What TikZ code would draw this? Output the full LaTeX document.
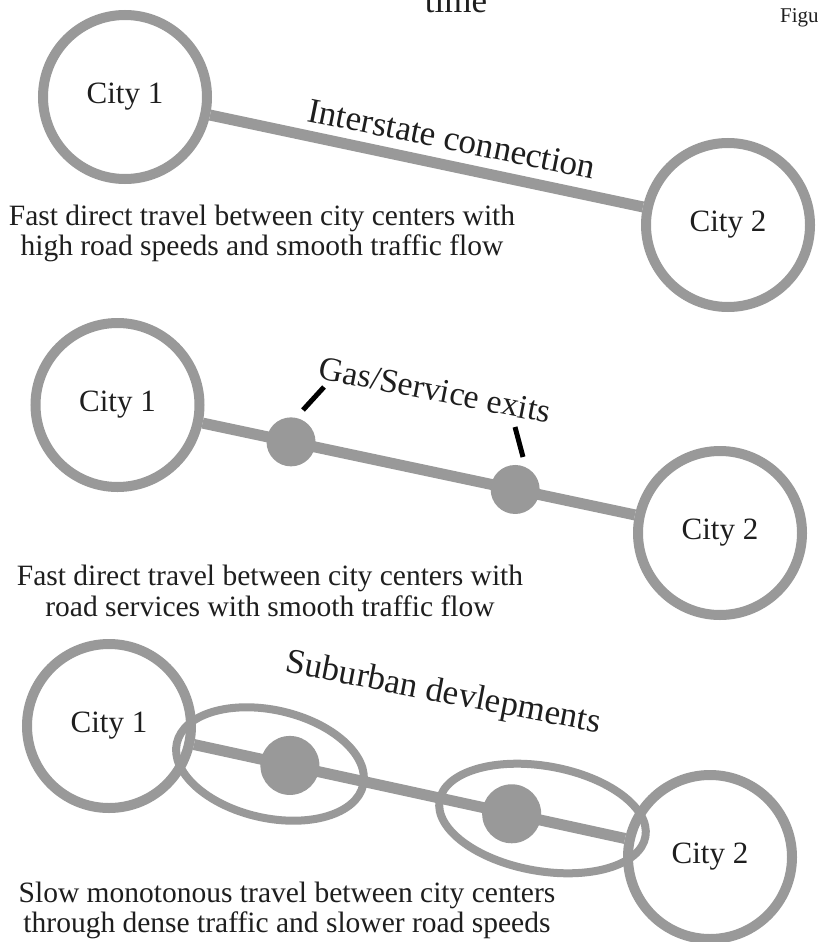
\documentclass[tikz,border=0pt]{standalone}
\usepackage{fontspec}
\setmainfont{Liberation Serif}
\usetikzlibrary{calc,shapes.geometric}
\definecolor{roadgray}{RGB}{153,153,153}
\definecolor{ink}{RGB}{30,30,30}

\begin{document}
\begin{tikzpicture}[x=1pt,y=-1pt,
  city/.style={circle, draw=roadgray, line width=10pt, minimum size=164pt,
    inner sep=0pt, text=ink, font=\fontsize{31}{34}\selectfont},
  roadline/.style={draw=roadgray, line width=11pt},
  exitdot/.style={circle, fill=roadgray, inner sep=0pt},
  suburb/.style={ellipse, draw=roadgray, line width=8pt, inner sep=0pt},
  roadtag/.style={text=ink, font=\fontsize{35}{40}\selectfont, inner sep=0pt},
  note/.style={text=ink, font=\fontsize{29.5}{30.5}\selectfont, align=center, inner sep=0pt},
  pointer/.style={draw=black, line width=5pt}]

\fill[white] (0,0) rectangle (817,942);
\useasboundingbox (0,0) rectangle (817,942);

% heading fragments
\node[roadtag, anchor=base] (head) at (456,13) {time};
\node[anchor=base west, text=ink, inner sep=0pt, font=\fontsize{21}{24}\selectfont] (fig) at (780,23) {Figu};

% --- interstate ---
\node[city] (a1) at (125,97) {City 1};
\node[city] (b1) at (728,225) {City 2};
\draw[roadline] (a1) -- (b1);
\node[roadtag, rotate=-11.5] (t1) at (452,139) {Interstate connection};
\node[note] (n1) at (262,233.5) {Fast direct travel between city centers with\\high road speeds and smooth traffic flow};

% --- interstate with service exits ---
\node[city] (a2) at (117.5,405) {City 1};
\node[city] (b2) at (720,533) {City 2};
\draw[roadline] (a2) -- (b2);
\node[exitdot, minimum size=49pt] (d1) at ($(a2)!0.288!(b2)$) {};
\node[exitdot, minimum size=49pt] (d2) at ($(a2)!0.66!(b2)$) {};
\node[roadtag, rotate=-11, font=\fontsize{33.7}{38}\selectfont] (t2) at (435,390) {Gas/Service exits};
\coordinate (p1a) at (303,410);
\coordinate (p1b) at (324,387);
\coordinate (p2a) at (515,427);
\coordinate (p2b) at (523,457);
\draw[pointer] (p1a) -- (p1b);
\draw[pointer] (p2a) -- (p2b);
\node[note] (n2) at (270,591) {Fast direct travel between city centers with\\road services with smooth traffic flow};

% --- suburban sprawl ---
\node[city] (a3) at (109,726) {City 1};
\node[city] (b3) at (710,857) {City 2};
\draw[roadline] (a3) -- (b3);
\node[exitdot, minimum size=59pt] (d3) at ($(a3)!0.301!(b3)$) {};
\node[exitdot, minimum size=59pt] (d4) at ($(a3)!0.67!(b3)$) {};
\node[suburb, minimum width=191pt, minimum height=108pt, rotate=-12.7] (s1) at (270,764) {};
\node[suburb, minimum width=209pt, minimum height=105pt, rotate=-10] (s2) at (542.5,818.5) {};
\node[roadtag, rotate=-11] (t3) at (443,694) {Suburban devlepments};
\node[note] (n3) at (287,910.5) {Slow monotonous travel between city centers\\through dense traffic and slower road speeds};
\end{tikzpicture}
\end{document}
